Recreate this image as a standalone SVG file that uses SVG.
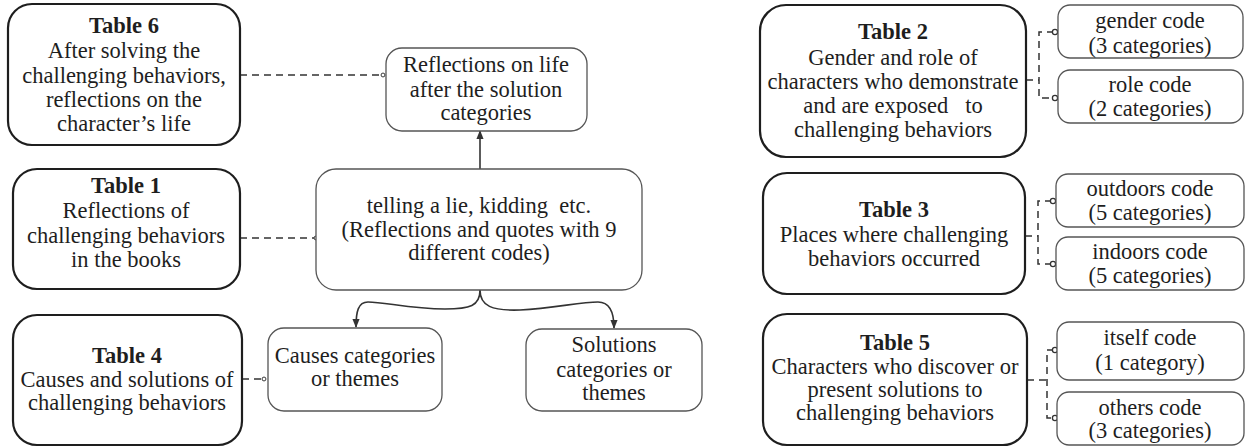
<svg xmlns="http://www.w3.org/2000/svg" width="1246" height="448" viewBox="0 0 1246 448" font-family="'Liberation Serif', 'Times New Roman', Tinos, 'DejaVu Serif', serif">
<style>
text{font-family:"Liberation Serif","Times New Roman",Tinos,"DejaVu Serif",serif;font-size:22.5px;fill:#1e1e1e;text-anchor:middle}
.b{font-weight:bold}
.main{fill:#fff;stroke:#1e1e1e;stroke-width:2.2}
.sub{fill:#fff;stroke:#555;stroke-width:1.3}
.dash{fill:none;stroke:#333;stroke-width:1.5;stroke-dasharray:7 5}
.solid{fill:none;stroke:#333;stroke-width:1.6}
.dot{fill:#fff;stroke:#333;stroke-width:1.3}
</style>
<defs>
<marker id="dot" viewBox="0 0 8 8" refX="4" refY="4" markerWidth="6" markerHeight="6" markerUnits="userSpaceOnUse"><circle cx="4" cy="4" r="2.6" fill="#fff" stroke="#333" stroke-width="1.3"/></marker>
<marker id="arr" viewBox="0 0 10 10" refX="9" refY="5" markerWidth="9" markerHeight="9" markerUnits="userSpaceOnUse" orient="auto"><path d="M0,1 L10,5 L0,9 Z" fill="#333"/></marker>
</defs>
<g id="connectors">
<path class="dash" d="M240,75 H383" marker-end="url(#dot)"/>
<path class="dash" d="M240,238 H316" marker-end="url(#dot)"/>
<path class="dash" d="M242,379 H264" marker-end="url(#dot)"/>
<path class="solid" d="M480,169 V131" marker-end="url(#arr)"/>
<path class="solid" d="M480,290 C480,306 470,309 445,309 C410,309 385,302 368,302 C358,302 356,312 356,327" marker-end="url(#arr)"/>
<path class="solid" d="M480,290 C480,306 492,311 520,310 C555,308 580,302 598,302 C610,302 614,312 614,328" marker-end="url(#arr)"/>
<path class="dash" d="M1026,80 H1039 M1054,32 H1039 V98 H1054"/>
<circle class="dot" cx="1055" cy="32" r="2.6"/>
<circle class="dot" cx="1055" cy="98" r="2.6"/>
<path class="dash" d="M1025,236 H1038 M1052,201 H1038 V264 H1052"/>
<circle class="dot" cx="1053" cy="201" r="2.6"/>
<circle class="dot" cx="1053" cy="264" r="2.6"/>
<path class="dash" d="M1027,380 H1047 M1054,350 H1047 V418 H1054"/>
<circle class="dot" cx="1055" cy="350" r="2.6"/>
<circle class="dot" cx="1055" cy="418" r="2.6"/>
</g>
<g id="table6"><rect class="main" x="8" y="4" width="232" height="141" rx="24"/>
<text x="124" y="33" class="b">Table 6</text><text x="124" y="58">After solving the</text><text x="124" y="83">challenging behaviors,</text><text x="124" y="107">reflections on the</text><text x="124" y="131">character’s life</text></g>
<g id="reflections"><rect class="sub" x="386" y="48" width="201" height="83" rx="16"/>
<text x="486" y="72">Reflections on life</text><text x="486" y="97">after the solution</text><text x="486" y="120">categories</text></g>
<g id="table1"><rect class="main" x="13" y="169" width="227" height="120" rx="24"/>
<text x="126" y="193" class="b">Table 1</text><text x="126" y="218">Reflections of</text><text x="126" y="243">challenging behaviors</text><text x="126" y="267">in the books</text></g>
<g id="central"><rect class="sub" x="316" y="169" width="326" height="121" rx="20"/>
<text x="479" y="213" xml:space="preserve">telling a lie, kidding  etc.</text><text x="479" y="237">(Reflections and quotes with 9</text><text x="479" y="260">different codes)</text></g>
<g id="table4"><rect class="main" x="13" y="315" width="229" height="130" rx="24"/>
<text x="127" y="363" class="b">Table 4</text><text x="127" y="387">Causes and solutions of</text><text x="127" y="410">challenging behaviors</text></g>
<g id="causes"><rect class="sub" x="268" y="328" width="174" height="83" rx="16"/>
<text x="355" y="363">Causes categories</text><text x="355" y="386">or themes</text></g>
<g id="solutions"><rect class="sub" x="526" y="329" width="176" height="82" rx="16"/>
<text x="614" y="352">Solutions</text><text x="614" y="377">categories or</text><text x="614" y="400">themes</text></g>
<g id="table2"><rect class="main" x="760" y="5" width="266" height="152" rx="26"/>
<text x="893" y="39" class="b">Table 2</text><text x="893" y="65">Gender and role of</text><text x="893" y="89">characters who demonstrate</text><text x="893" y="113" xml:space="preserve">and are exposed   to</text><text x="893" y="137">challenging behaviors</text></g>
<g id="gender"><rect class="sub" x="1058" y="5" width="185" height="53" rx="12"/>
<text x="1150" y="28">gender code</text><text x="1150" y="53">(3 categories)</text></g>
<g id="role"><rect class="sub" x="1058" y="70" width="185" height="53" rx="12"/>
<text x="1150" y="92">role code</text><text x="1150" y="116">(2 categories)</text></g>
<g id="table3"><rect class="main" x="763" y="173" width="262" height="121" rx="24"/>
<text x="894" y="217" class="b">Table 3</text><text x="894" y="242">Places where challenging</text><text x="894" y="266">behaviors occurred</text></g>
<g id="outdoors"><rect class="sub" x="1056" y="174" width="188" height="53" rx="12"/>
<text x="1150" y="196">outdoors code</text><text x="1150" y="220">(5 categories)</text></g>
<g id="indoors"><rect class="sub" x="1056" y="237" width="188" height="53" rx="12"/>
<text x="1150" y="259">indoors code</text><text x="1150" y="283">(5 categories)</text></g>
<g id="table5"><rect class="main" x="763" y="314" width="264" height="131" rx="24"/>
<text x="895" y="350" class="b">Table 5</text><text x="895" y="374">Characters who discover or</text><text x="895" y="397">present solutions to</text><text x="895" y="420">challenging behaviors</text></g>
<g id="itself"><rect class="sub" x="1057" y="322" width="187" height="58" rx="12"/>
<text x="1150" y="345">itself code</text><text x="1150" y="370">(1 category)</text></g>
<g id="others"><rect class="sub" x="1057" y="392" width="187" height="53" rx="12"/>
<text x="1150" y="415">others code</text><text x="1150" y="438">(3 categories)</text></g>
</svg>
